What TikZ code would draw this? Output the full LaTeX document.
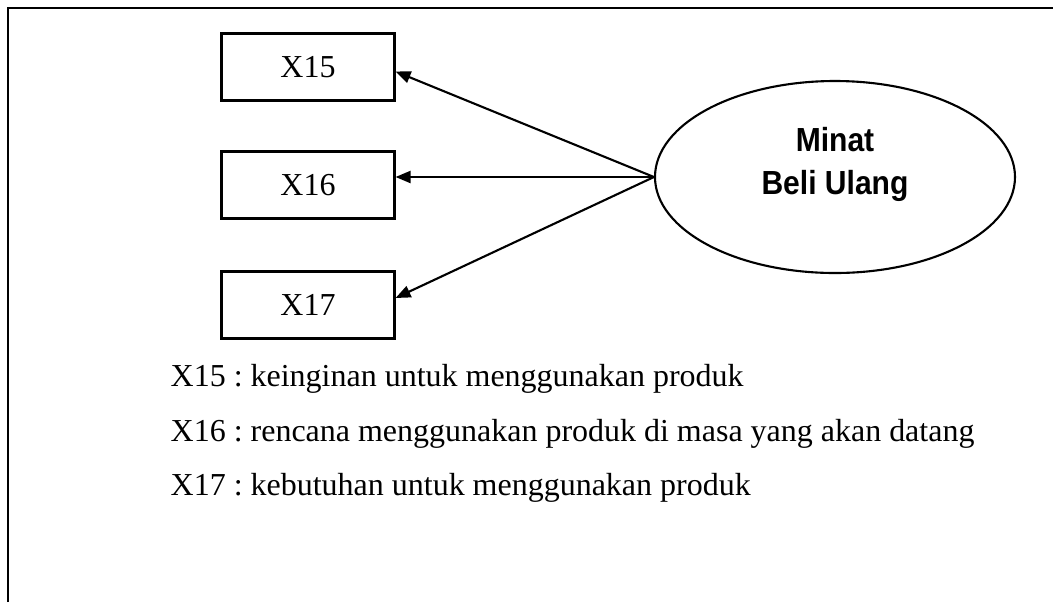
\documentclass[tikz,border=0pt]{standalone}
\usepackage{fontspec}
\setmainfont{Liberation Serif}
\newfontfamily\minatfont[FakeStretch=0.9]{Liberation Sans}
\usetikzlibrary{shapes.geometric,arrows.meta,positioning}
\frenchspacing

\begin{document}
\begin{tikzpicture}[
		every node/.style={font=\fontsize{9.1}{11.6}\selectfont},
		indikator/.style={draw,line width=0.6pt,minimum width=1.73cm,minimum height=0.67cm,inner sep=0pt},
		panah/.style={-{Triangle[length=1.5mm,width=1.2mm]},line width=0.6pt},
		keterangan/.style={anchor=base west,inner sep=0pt},
	]
	\useasboundingbox (0,0) rectangle (10.53,6.02);

	% garis tepi kiri dan atas
	\draw[line width=0.8pt] (0.08,0) -- (0.08,5.94) -- (10.53,5.94);

	% indikator
	\node[indikator] (x15) at (3.08,5.35) {X15};
	\node[indikator] (x16) at (3.08,4.17) {X16};
	\node[indikator] (x17) at (3.08,2.97) {X17};

	% variabel laten
	\node[draw,ellipse,line width=0.6pt,minimum width=3.6cm,minimum height=1.92cm] (minat) at (8.35,4.25) {};
	\node[align=center,font=\minatfont\bfseries\fontsize{9.5}{12.2}\selectfont] (minatteks) at ([yshift=0.13cm]minat.center) {Minat\\Beli Ulang};

	\draw[panah] (minat.west) -- ([yshift=-0.045cm]x15.east);
	\draw[panah] (minat.west) -- ([yshift=0.08cm]x16.east);
	\draw[panah] (minat.west) -- ([yshift=0.07cm]x17.east);

	% keterangan
	\node[keterangan] (k15) at (1.70,2.16) {X15 : keinginan untuk menggunakan produk};
	\node[keterangan] (k16) at (1.70,1.61) {X16 : rencana menggunakan produk di masa yang akan datang};
	\node[keterangan] (k17) at (1.70,1.07) {X17 : kebutuhan untuk menggunakan produk};

\end{tikzpicture}
\end{document}
